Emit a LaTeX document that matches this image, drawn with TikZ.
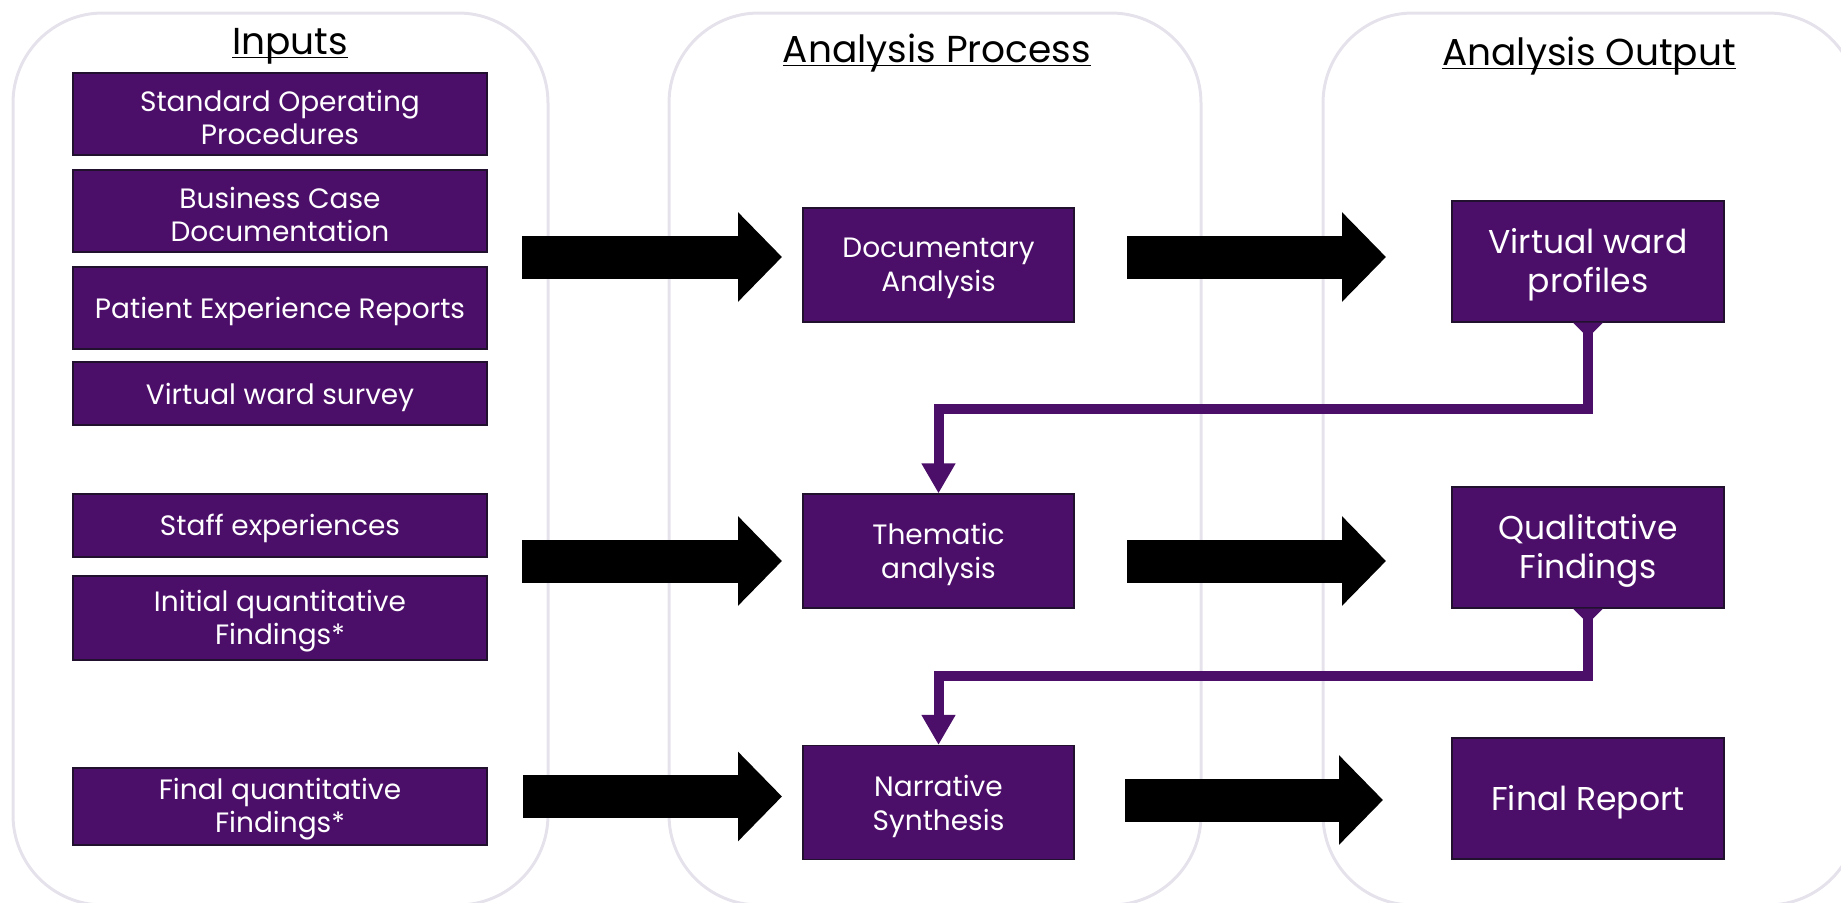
\documentclass[tikz,border=0pt]{standalone}
\usepackage{fontspec}
\setmainfont{Poppins}
\usetikzlibrary{arrows.meta,calc}
\definecolor{vw}{HTML}{4B0E69}
\definecolor{vwb}{HTML}{22102F}
\definecolor{panelc}{HTML}{E6E2EC}
\newcommand\myul[1]{\setbox0\hbox{#1}\rlap{\rule[-4pt]{\wd0}{1.4pt}}\box0}
\tikzset{
  panelbox/.style={draw=panelc, line width=3pt, rounded corners=90pt},
  boxbase/.style={fill=vw, draw=vwb, line width=1.2pt, inner sep=0pt},
  ibox/.style={boxbase, minimum width=414pt},
  pbox/.style={boxbase, minimum width=271pt, minimum height=114pt},
  obox/.style={boxbase, minimum width=272pt, minimum height=121pt},
  itxt/.style={text=white, align=center, inner sep=0pt, font=\fontsize{28}{33}\selectfont},
  ptxt/.style={text=white, align=center, inner sep=0pt, font=\fontsize{28}{34}\selectfont},
  otxt/.style={text=white, align=center, inner sep=0pt, font=\fontsize{33}{39}\selectfont},
  titletext/.style={font=\fontsize{37.5}{42}\selectfont, anchor=base, inner sep=0pt},
  blk/.style={line width=43pt, draw=black, -{Triangle[length=44pt,width=87pt]}},
  conn/.style={line width=10pt, draw=vw, -{Triangle[length=30pt,width=32pt]}},
}
\begin{document}
\begin{tikzpicture}[x=1pt,y=-1pt]
\useasboundingbox (0,0) rectangle (1841,902);

% panels
\draw[panelbox] (13,13) rectangle (548,905);
\draw[panelbox] (669,13) rectangle (1201,905);
\draw[panelbox] (1323,13) rectangle (1858,905);

% black block arrows
\coordinate (a1s) at (522,257); \coordinate (a1e) at (782,257);
\coordinate (b1s) at (1127,257); \coordinate (b1e) at (1386,257);
\coordinate (a2s) at (522,561); \coordinate (a2e) at (782,561);
\coordinate (b2s) at (1127,561); \coordinate (b2e) at (1386,561);
\coordinate (a3s) at (523,796.5); \coordinate (a3e) at (782,796.5);
\coordinate (b3s) at (1125,800); \coordinate (b3e) at (1383,800);
\draw[blk] (a1s) -- (a1e);
\draw[blk] (b1s) -- (b1e);
\draw[blk] (a2s) -- (a2e);
\draw[blk] (b2s) -- (b2e);
\draw[blk] (a3s) -- (a3e);
\draw[blk] (b3s) -- (b3e);

% titles
\node[titletext] (t1) at (290,54) {\myul{Inputs}};
\node[titletext] (t2) at (937,62) {\myul{Analysis Process}};
\node[titletext] (t3) at (1589,65) {\myul{Analysis Output}};

% inputs
\node[ibox, minimum height=82pt] (in1) at (280,114) {};
\node[ibox, minimum height=82pt] (in2) at (280,211) {};
\node[ibox, minimum height=82pt] (in3) at (280,308) {};
\node[ibox, minimum height=63pt] (in4) at (280,393.5) {};
\node[ibox, minimum height=63pt] (in5) at (280,525.5) {};
\node[ibox, minimum height=84pt] (in6) at (280,618) {};
\node[ibox, minimum height=77pt] (in7) at (280,806.5) {};
\node[itxt] (in1t) at ([yshift=-3.5pt]in1.center) {Standard Operating\\Procedures};
\node[itxt] (in2t) at ([yshift=-3.5pt]in2.center) {Business Case\\Documentation};
\node[itxt] (in3t) at ([yshift=-3.5pt]in3.center) {Patient Experience Reports};
\node[itxt] (in4t) at ([yshift=-3.5pt]in4.center) {Virtual ward survey};
\node[itxt] (in5t) at ([yshift=-3pt]in5.center) {Staff experiences};
\node[itxt] (in6t) at ([yshift=-3pt]in6.center) {Initial quantitative\\Findings*};
\node[itxt] (in7t) at ([yshift=-3pt]in7.center) {Final quantitative\\Findings*};

% process
\node[pbox] (pr1) at (938.5,265) {};
\node[pbox] (pr2) at (938.5,551) {};
\node[pbox] (pr3) at (938.5,802.5) {};
\node[ptxt] (pr1t) at ([yshift=-3.5pt]pr1.center) {Documentary\\Analysis};
\node[ptxt] (pr2t) at ([yshift=-3.5pt]pr2.center) {Thematic\\analysis};
\node[ptxt] (pr3t) at ([yshift=-3.5pt]pr3.center) {Narrative\\Synthesis};

% outputs
\node[obox] (out1) at (1588,261.5) {};
\node[obox] (out2) at (1588,547.5) {};
\node[obox] (out3) at (1588,798.5) {};
\node[otxt] (out1t) at ([yshift=-3.5pt]out1.center) {Virtual ward\\profiles};
\node[otxt] (out2t) at ([yshift=-3.5pt]out2.center) {Qualitative\\Findings};
\node[otxt] (out3t) at ([yshift=-4pt]out3.center) {Final Report};

% purple connectors
\coordinate (k1) at ($(out1.south)+(0,86)$);
\coordinate (k2) at ($(out2.south)+(0,67)$);
\draw[conn] (out1.south) -- (k1) -| (pr2.north);
\draw[conn] (out2.south) -- (k2) -| (pr3.north);
\fill[vw] ($(out1.south)+(-15,0)$) -- ($(out1.south)+(15,0)$) -- ($(out1.south)+(5,10)$) -- ($(out1.south)+(-5,10)$) -- cycle;
\fill[vw] ($(out2.south)+(-15,0)$) -- ($(out2.south)+(15,0)$) -- ($(out2.south)+(5,10)$) -- ($(out2.south)+(-5,10)$) -- cycle;
\end{tikzpicture}
\end{document}
